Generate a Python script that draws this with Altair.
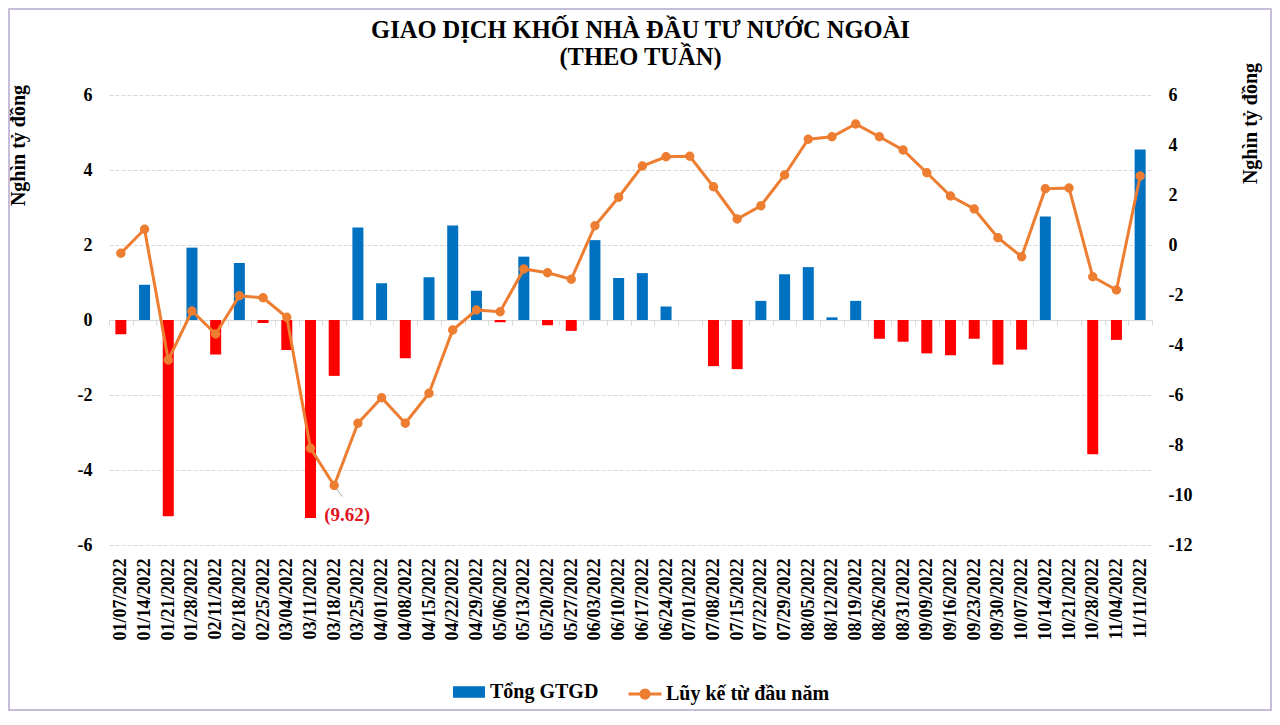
import altair as alt
import pandas as pd

dates = ["01/07/2022", "01/14/2022", "01/21/2022", "01/28/2022", "02/11/2022", "02/18/2022",
         "02/25/2022", "03/04/2022", "03/11/2022", "03/18/2022", "03/25/2022", "04/01/2022",
         "04/08/2022", "04/15/2022", "04/22/2022", "04/29/2022", "05/06/2022", "05/13/2022",
         "05/20/2022", "05/27/2022", "06/03/2022", "06/10/2022", "06/17/2022", "06/24/2022",
         "07/01/2022", "07/08/2022", "07/15/2022", "07/22/2022", "07/29/2022", "08/05/2022",
         "08/12/2022", "08/19/2022", "08/26/2022", "08/31/2022", "09/09/2022", "09/16/2022",
         "09/23/2022", "09/30/2022", "10/07/2022", "10/14/2022", "10/21/2022", "10/28/2022",
         "11/04/2022", "11/11/2022"]

tong_gtgd = [-0.38, 0.94, -5.23, 1.93, -0.92, 1.52, -0.08, -0.80, -5.28, -1.49, 2.47, 0.98,
             -1.02, 1.14, 2.52, 0.78, -0.06, 1.69, -0.14, -0.29, 2.13, 1.12, 1.25, 0.36,
             0.0, -1.23, -1.31, 0.51, 1.22, 1.41, 0.07, 0.51, -0.50, -0.58, -0.89, -0.94,
             -0.50, -1.19, -0.79, 2.76, 0.0, -3.58, -0.53, 4.55]

luy_ke = [-0.33, 0.63, -4.60, -2.64, -3.56, -2.03, -2.11, -2.89, -8.13, -9.62, -7.13, -6.11,
          -7.13, -5.93, -3.40, -2.60, -2.67, -0.96, -1.11, -1.37, 0.77, 1.91, 3.16, 3.53,
          3.55, 2.33, 1.04, 1.57, 2.80, 4.23, 4.33, 4.84, 4.33, 3.80, 2.89, 1.96,
          1.44, 0.29, -0.47, 2.25, 2.28, -1.27, -1.80, 2.76]

series_names = ["Tổng GTGD", "Lũy kế từ đầu năm"]
left_ticks = [-6, -4, -2, 0, 2, 4, 6]
right_ticks = [-12, -10, -8, -6, -4, -2, 0, 2, 4, 6]
annot_date = "03/18/2022"

BLUE = "#0070C0"
RED = "#FF0000"
ORANGE = "#ED7D31"
GRID = "#D9D9D9"
FONT = "Liberation Serif"

df = pd.DataFrame({"date": dates, "gtgd": tong_gtgd, "luyke": luy_ke})
df["s1"] = series_names[0]
df["s2"] = series_names[1]

x_enc = alt.X(
    "date:N", sort=None, title=None,
    scale=alt.Scale(paddingInner=0, paddingOuter=0),
    axis=alt.Axis(
        labelAngle=-90, offset=-225, domainColor=GRID, tickColor=GRID, tickSize=5,
        tickBand="extent", labelPadding=233, labelFont=FONT, labelFontSize=18,
        labelFontWeight="bold", labelColor="black", grid=False,
    ),
)

right_axis = alt.Axis(
    values=right_ticks, orient="right", grid=False, domain=False, ticks=False,
    labelFont=FONT, labelFontSize=18, labelFontWeight="bold", labelColor="black",
    labelPadding=16, labelExpr="'' + datum.value",
    title="Nghìn tỷ đồng", titleFont=FONT, titleFontSize=20, titleFontWeight="bold",
    titleColor="black", titleAngle=-90, titleX=98, titleY=28,
    titleAlign="center", titleBaseline="middle",
)
right_scale = alt.Scale(domain=[-12, 6], nice=False)

bars = alt.Chart(df).mark_bar(size=11).encode(
    x=x_enc,
    y=alt.Y(
        "gtgd:Q",
        scale=alt.Scale(domain=[-6, 6], nice=False, zero=True),
        axis=alt.Axis(
            values=left_ticks, orient="left", grid=True, gridDash=[4, 2], gridColor=GRID,
            domain=False, ticks=False,
            labelFont=FONT, labelFontSize=18,
            labelFontWeight="bold", labelColor="black", labelPadding=17,
            labelExpr="'' + datum.value",
            title="Nghìn tỷ đồng", titleFont=FONT, titleFontSize=20, titleFontWeight="bold",
            titleColor="black", titleAngle=-90, titleX=-91, titleY=50,
            titleAlign="center", titleBaseline="middle",
        ),
    ),
    color=alt.condition(
        "datum.gtgd < 0",
        alt.value(RED),
        alt.Color(
            "s1:N",
            scale=alt.Scale(domain=[series_names[0]], range=[BLUE]),
            legend=alt.Legend(
                title=None, orient="none", legendX=344, legendY=581,
                symbolType="M-1,-0.36H1V0.36H-1Z", symbolSize=1024, symbolStrokeWidth=0,
                labelFont=FONT, labelFontSize=20, labelFontWeight="bold", labelColor="black",
                labelOffset=5, labelLimit=400,
            ),
        ),
    ),
)

line = alt.Chart(df).mark_line(
    strokeWidth=3,
    point=alt.OverlayMarkDef(filled=True, size=55, color=ORANGE),
).encode(
    x=x_enc,
    y=alt.Y("luyke:Q", scale=right_scale, axis=right_axis),
    stroke=alt.Stroke(
        "s2:N",
        scale=alt.Scale(domain=[series_names[1]], range=[ORANGE]),
        legend=alt.Legend(
            title=None, orient="none", legendX=518, legendY=581,
            symbolType="M-1,0H1M0.25,0A0.25,0.25 0 1 1 -0.25,0A0.25,0.25 0 1 1 0.25,0",
            symbolSize=1089, symbolStrokeWidth=3, symbolFillColor=ORANGE,
            labelFont=FONT, labelFontSize=20, labelFontWeight="bold", labelColor="black",
            labelOffset=3, labelLimit=400,
        ),
    ),
)

annot = alt.Chart(df).transform_filter(
    alt.datum.date == annot_date
).transform_calculate(
    lbl="'(' + format(-datum.luyke, '.2f') + ')'"
).mark_text(
    font=FONT, fontSize=19, fontWeight="bold", color="#E0141E",
    align="center", baseline="middle", dx=13, dy=29,
).encode(
    x=x_enc,
    y=alt.Y("luyke:Q", scale=right_scale, axis=right_axis),
    text="lbl:N",
)

leader = alt.Chart(df).transform_filter(
    alt.datum.date == annot_date
).mark_rule(color="#A6A6A6", strokeWidth=1, xOffset=2, yOffset=3, x2Offset=8, y2Offset=11).encode(
    x=x_enc,
    x2=alt.X2("date"),
    y=alt.Y("luyke:Q", scale=right_scale, axis=right_axis),
    y2=alt.Y2("luyke"),
)

frame = alt.Chart(pd.DataFrame({"k": [0]})).mark_rect(
    fill="transparent", stroke="#B6A8CC", strokeWidth=1.5
).encode(
    x=alt.value(-100), x2=alt.value(1162), y=alt.value(-86), y2=alt.value(615)
)

chart = alt.layer(
    bars, alt.layer(line, leader, annot), frame
).resolve_scale(y="independent").properties(
    width=1043, height=450,
    autosize=alt.AutoSizeParams(type="none"),
    padding={"left": 101, "top": 87, "right": 120, "bottom": 166},
    view=alt.ViewBackground(stroke="transparent", strokeWidth=0),
    title=alt.TitleParams(
        text=["GIAO DỊCH KHỐI NHÀ ĐẦU TƯ NƯỚC NGOÀI", "(THEO TUẦN)"],
        font=FONT, fontSize=24.5, fontWeight="bold", color="black",
        anchor="middle", offset=-62, lineHeight=27, dx=10,
    ),
).configure_view(
    strokeWidth=0, stroke="transparent"
).configure_axisY(
    domain=False, ticks=False
).configure_axisLeft(
    domain=False
).configure_axisRight(
    domain=False
).configure(background="white")

chart.save("out.html", embed_options={"renderer": "svg", "actions": False})
